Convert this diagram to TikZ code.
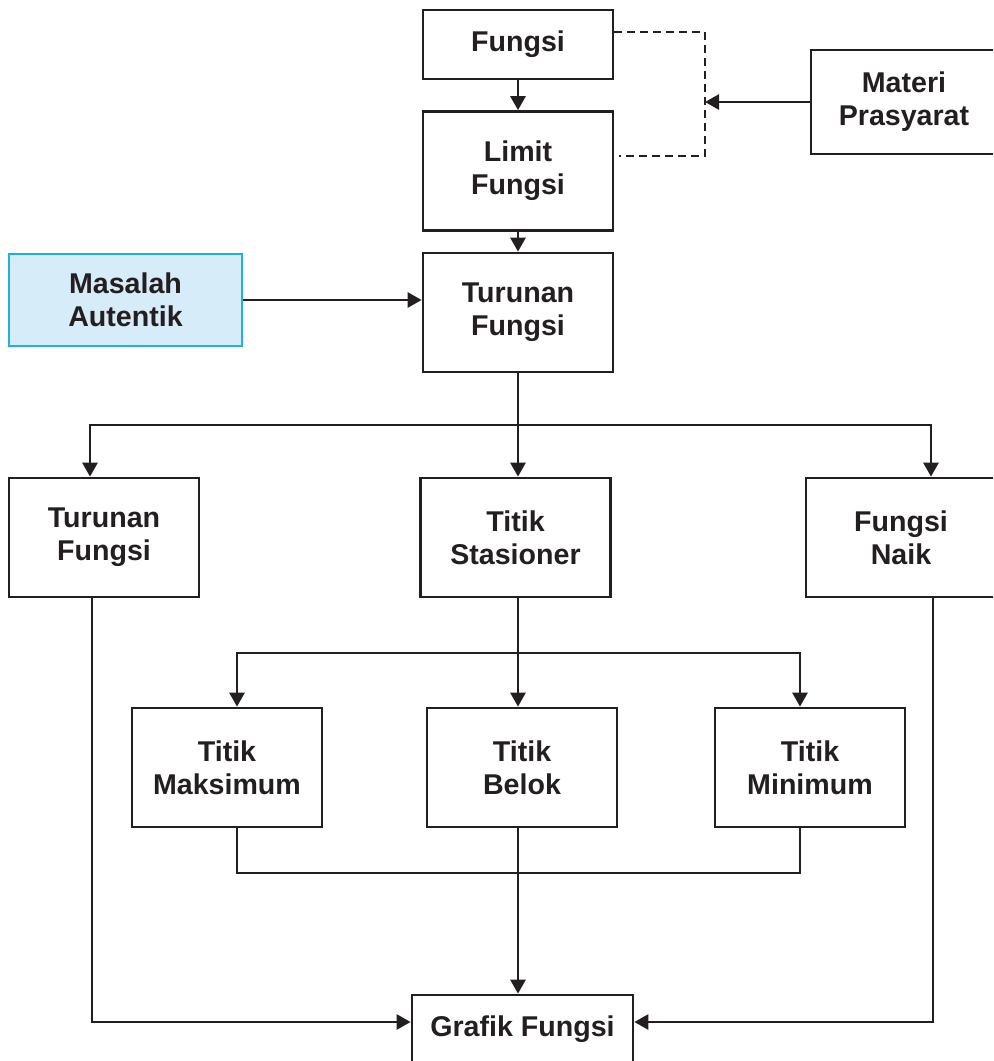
\documentclass[tikz,border=0pt]{standalone}
\usepackage{fontspec}
\setmainfont{Liberation Sans}
\usepackage{tikz}
\usetikzlibrary{arrows.meta, positioning}
\definecolor{inkgray}{HTML}{231F20}
\definecolor{skyfill}{HTML}{D6ECF9}
\definecolor{skyline}{HTML}{1FB0E6}

\begin{document}
\begin{tikzpicture}[
        x=0.5pt, y=-0.5pt,
        box/.style={
            rectangle, draw=inkgray, fill=white, line width=1.35pt, text=inkgray,
            align=center, inner sep=0pt, minimum width=95pt, minimum height=59.5pt,
            font=\fontsize{14.3}{16.5}\selectfont\bfseries
        },
        arrow/.style={-{Triangle[length=7pt,width=7.5pt]}, draw=inkgray, line width=1.35pt},
        link/.style={draw=inkgray, line width=1.35pt}
    ]
        \clip (0,0) rectangle (993,1061);

        % Upper column
        \node[box, minimum height=34.5pt] (fungsi) at (518,44.5) {Fungsi};
        \node[box] (limit) [below=14.9pt of fungsi] {Limit\\Fungsi};
        \node[box] (turunan) [below=9.9pt of limit] {Turunan\\Fungsi};
        \node[box, minimum width=93pt, minimum height=52pt] (materi) at (904,102) {Materi\\Prasyarat};
        \node[box, fill=skyfill, draw=skyline, minimum width=116.5pt, minimum height=46pt] (masalah) at (125.5,300) {Masalah\\Autentik};

        % Middle row
        \node[box] (turL) at (104,537.5) {Turunan\\Fungsi};
        \node[box] (stas) at (515.5,537.5) {Titik\\Stasioner};
        \node[box] (naik) at (901,537.5) {Fungsi\\Naik};

        % Lower row
        \node[box] (maks) at (227,767.5) {Titik\\Maksimum};
        \node[box] (belok) at (522,767.5) {Titik\\Belok};
        \node[box] (minim) at (810,767.5) {Titik\\Minimum};
        \node[box, minimum width=110.5pt, minimum height=34pt] (grafik) at (522.5,1029) {Grafik Fungsi};

        \coordinate (dashtop) at (705,32);
        \coordinate (dashbot) at (705,156);
        \coordinate (fork1) at (518,425);
        \coordinate (fork2) at (518,653);
        \coordinate (join) at (518,873);

        % Connectors
        \draw[arrow] (fungsi) -- (limit);
        \draw[arrow] (limit) -- (turunan);
        \draw[link, dashed, dash pattern=on 4pt off 2.5pt] (fungsi.east |- dashtop) -- (dashtop) -- (dashbot) -- ([xshift=2.5pt]limit.east |- dashbot);
        \draw[arrow] (materi.west) -- (materi.west -| dashbot);
        \draw[arrow] (masalah.east) -- (masalah.east -| turunan.west);

        \draw[link] (turunan.south) -- (fork1);
        \draw[arrow] (fork1) -- (fork1 |- stas.north);
        \draw[arrow] (fork1) -| ([xshift=-7pt]turL.north);
        \draw[arrow] (fork1) -| ([xshift=15pt]naik.north);

        \draw[link] (fork1 |- stas.south) -- (fork2);
        \draw[arrow] (fork2) -- (fork2 |- belok.north);
        \draw[arrow] (fork2) -| ([xshift=5pt]maks.north);
        \draw[arrow] (fork2) -| ([xshift=-5pt]minim.north);

        \draw[link] ([xshift=5pt]maks.south) |- (join) -| ([xshift=-5pt]minim.south);
        \draw[arrow] (fork2 |- belok.south) -- (fork2 |- grafik.north);
        \draw[arrow] ([xshift=-6pt]turL.south) |- ([yshift=3.5pt]grafik.west);
        \draw[arrow] ([xshift=16pt]naik.south) |- ([yshift=3.5pt]grafik.east);

    \end{tikzpicture}
\end{document}
